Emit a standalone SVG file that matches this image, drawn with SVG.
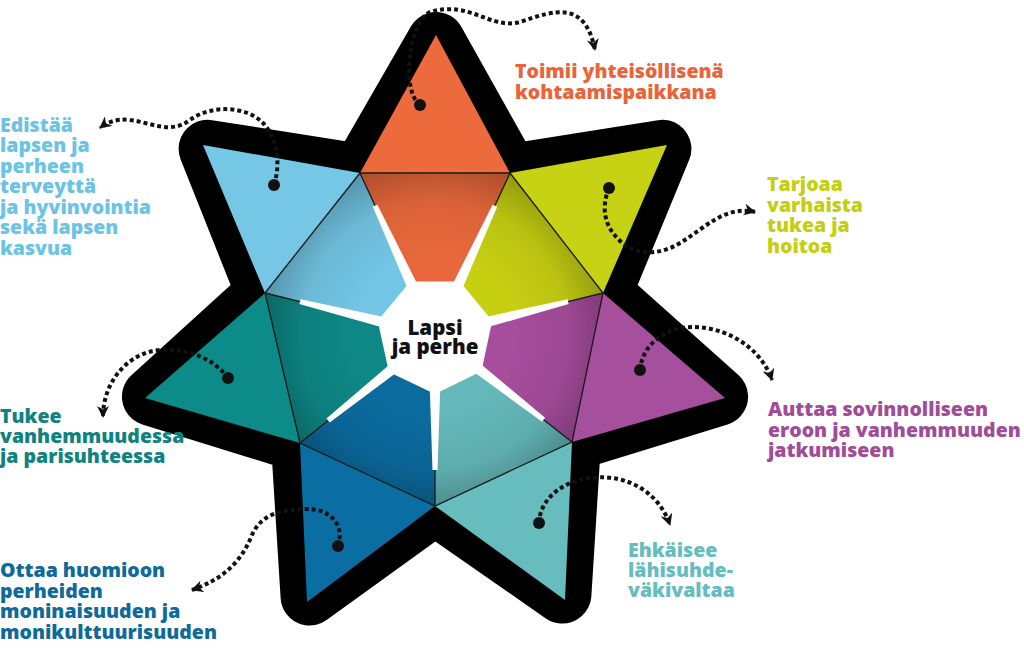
<svg xmlns="http://www.w3.org/2000/svg" width="1024" height="658" viewBox="0 0 1024 658">
<defs>
<style>
.lbl{font-family:"Open Sans","Liberation Sans",sans-serif;font-weight:800;font-size:19.5px}
.ctr{font-family:"Open Sans","Liberation Sans",sans-serif;font-weight:800;font-size:20.5px;fill:#111;text-anchor:middle}
.dotline{fill:none;stroke:#111;stroke-width:4;stroke-dasharray:4 3;marker-end:url(#ah)}
.dot{fill:#111}
.edge{fill:none;stroke:#1a1a1a;stroke-width:1.3}
.gap{fill:#fff}
</style>
<marker id="ah" markerWidth="13" markerHeight="13" refX="11" refY="6.5" orient="auto" markerUnits="userSpaceOnUse">
<path d="M0,0.5 L12,6.5 L0,12.5 L3.5,6.5 Z" fill="#111"/>
</marker>
<radialGradient id="shade" gradientUnits="userSpaceOnUse" cx="435" cy="335" r="178">
<stop offset="0.45" stop-color="#000" stop-opacity="0"/>
<stop offset="0.75" stop-color="#000" stop-opacity="0.06"/>
<stop offset="1" stop-color="#000" stop-opacity="0.26"/>
</radialGradient>
</defs>
<rect width="1024" height="658" fill="#fff"/>

<g id="star-outline">
<polygon points="436,41 510,173 662.4,148.8 603,293 719.1,396.7 572,442 562.4,594.6 435,506 309.6,596.6 300,443 150.9,396.7 265,293 207.6,148.8 360,173" fill="#000" stroke="#000" stroke-width="58" stroke-linejoin="round"/>
</g>

<g id="node-orange">
<polygon points="436,35 510,173 360,173" fill="#ec6a3c"/>
<text class="lbl" fill="#e9643a"><tspan x="515" y="78">Toimii yhteisöllisenä</tspan><tspan x="515" y="98.5">kohtaamispaikkana</tspan></text>
</g>
<g id="node-yellow">
<polygon points="667,145 603,293 510,173" fill="#c8d214"/>
<text class="lbl" fill="#c3cf10"><tspan x="767" y="191">Tarjoaa</tspan><tspan x="767" y="211.5">varhaista</tspan><tspan x="767" y="232">tukea ja</tspan><tspan x="767" y="252.5">hoitoa</tspan></text>
</g>
<g id="node-magenta">
<polygon points="725,398 572,442 603,293" fill="#a54f9d"/>
<text class="lbl" fill="#a04c98"><tspan x="768" y="416">Auttaa sovinnolliseen</tspan><tspan x="768" y="436.5">eroon ja vanhemmuuden</tspan><tspan x="768" y="457">jatkumiseen</tspan></text>
</g>
<g id="node-teal-light">
<polygon points="565,600 435,506 572,442" fill="#67bcbd"/>
<text class="lbl" fill="#66bcbe"><tspan x="628" y="556.5">Ehkäisee</tspan><tspan x="628" y="576.5">lähisuhde-</tspan><tspan x="628" y="596.5">väkivaltaa</tspan></text>
</g>
<g id="node-blue">
<polygon points="307,602 300,443 435,506" fill="#0a6ea3"/>
<text class="lbl" fill="#0f6a9a"><tspan x="0" y="577">Ottaa huomioon</tspan><tspan x="0" y="597.5">perheiden</tspan><tspan x="0" y="618">moninaisuuden ja</tspan><tspan x="0" y="638.5">monikulttuurisuuden</tspan></text>
</g>
<g id="node-teal-dark">
<polygon points="145,398 265,293 300,443" fill="#0d8b89"/>
<text class="lbl" fill="#10827f"><tspan x="0" y="423">Tukee</tspan><tspan x="0" y="443">vanhemmuudessa</tspan><tspan x="0" y="463">ja parisuhteessa</tspan></text>
</g>
<g id="node-lightblue">
<polygon points="203,145 360,173 265,293" fill="#76c7e6"/>
<text class="lbl" fill="#6cc3e5"><tspan x="0" y="131.5">Edistää</tspan><tspan x="0" y="152">lapsen ja</tspan><tspan x="0" y="172.5">perheen</tspan><tspan x="0" y="193">terveyttä</tspan><tspan x="0" y="213.5">ja hyvinvointia</tspan><tspan x="0" y="234">sekä lapsen</tspan><tspan x="0" y="254.5">kasvua</tspan></text>
</g>

<g id="node-center">
<polygon points="360,173 510,173 435,335" fill="#e8683b"/>
<polygon points="510,173 603,293 435,335" fill="#c6cf12"/>
<polygon points="603,293 572,442 435,335" fill="#a64d9c"/>
<polygon points="572,442 435,506 435,335" fill="#64b8b9"/>
<polygon points="435,506 300,443 435,335" fill="#0b6b9f"/>
<polygon points="300,443 265,293 435,335" fill="#0e8886"/>
<polygon points="265,293 360,173 435,335" fill="#72c5e4"/>
<polygon points="360,173 510,173 603,293 572,442 435,506 300,443 265,293" fill="url(#shade)"/>
<polygon class="gap" points="372.8,206.7 428.6,337.9 441.4,332.1 377.4,204.7"/>
<polygon class="gap" points="492.6,204.7 428.6,332.1 441.4,337.9 497.2,206.7"/>
<polygon class="gap" points="567.5,299.3 433.3,328.2 436.7,341.8 568.7,304.1"/>
<polygon class="gap" points="545.1,417.8 439.3,329.5 430.7,340.5 542.1,421.8"/>
<polygon class="gap" points="437.5,470 442,335 428,335 432.5,470"/>
<polygon class="gap" points="329.7,422.5 439.4,340.5 430.6,329.5 326.5,418.5"/>
<polygon class="gap" points="299.4,304 433.3,341.8 436.7,328.2 300.6,299.2"/>
<polygon class="gap" points="410.2,281.5 459.8,281.5 492.2,320.7 481.5,371.3 435,394 388.9,371.9 377.7,320.8"/>
<polygon class="edge" points="360,173 510,173 603,293 572,442 435,506 300,443 265,293"/>
<path class="edge" d="M360,173 L375,205.5 M510,173 L495,205.5 M603,293 L568,301.7 M572,442 L543.6,419.8 M435,506 L435,470 M300,443 L328,420.5 M265,293 L300,301.6"/>
<text class="ctr"><tspan x="435" y="335">Lapsi</tspan><tspan x="435" y="354">ja perhe</tspan></text>
</g>

<g id="connectors">
<path class="dotline" d="M420,105 C 400,90 410,20 430,12 C 470,0 490,30 520,22 C 555,10 585,0 595,50"/>
<path class="dotline" d="M274,185 C 282,160 275,135 263,123 C 245,105 210,105 190,120 C 170,135 150,122 130,120 C 115,118 105,124 100,128"/>
<path class="dotline" d="M609,188 C 600,210 605,230 625,245 C 640,255 660,255 680,243 C 705,228 725,205 755,212"/>
<path class="dotline" d="M640,370 C 642,350 655,335 680,328 C 720,322 760,345 772,380"/>
<path class="dotline" d="M539,523 C 540,500 560,482 590,478 C 630,473 660,495 670,525"/>
<path class="dotline" d="M338,546 C 345,525 330,508 305,509 C 285,510 262,512 252,535 C 240,565 220,580 192,590"/>
<path class="dotline" d="M228,378 C 215,360 190,348 160,350 C 130,352 103,380 103,417"/>
<circle class="dot" cx="420" cy="105" r="6"/>
<circle class="dot" cx="274" cy="185" r="6"/>
<circle class="dot" cx="609" cy="188" r="6"/>
<circle class="dot" cx="640" cy="370" r="6"/>
<circle class="dot" cx="539" cy="523" r="6"/>
<circle class="dot" cx="338" cy="546" r="6"/>
<circle class="dot" cx="228" cy="378" r="6"/>
</g>
</svg>
